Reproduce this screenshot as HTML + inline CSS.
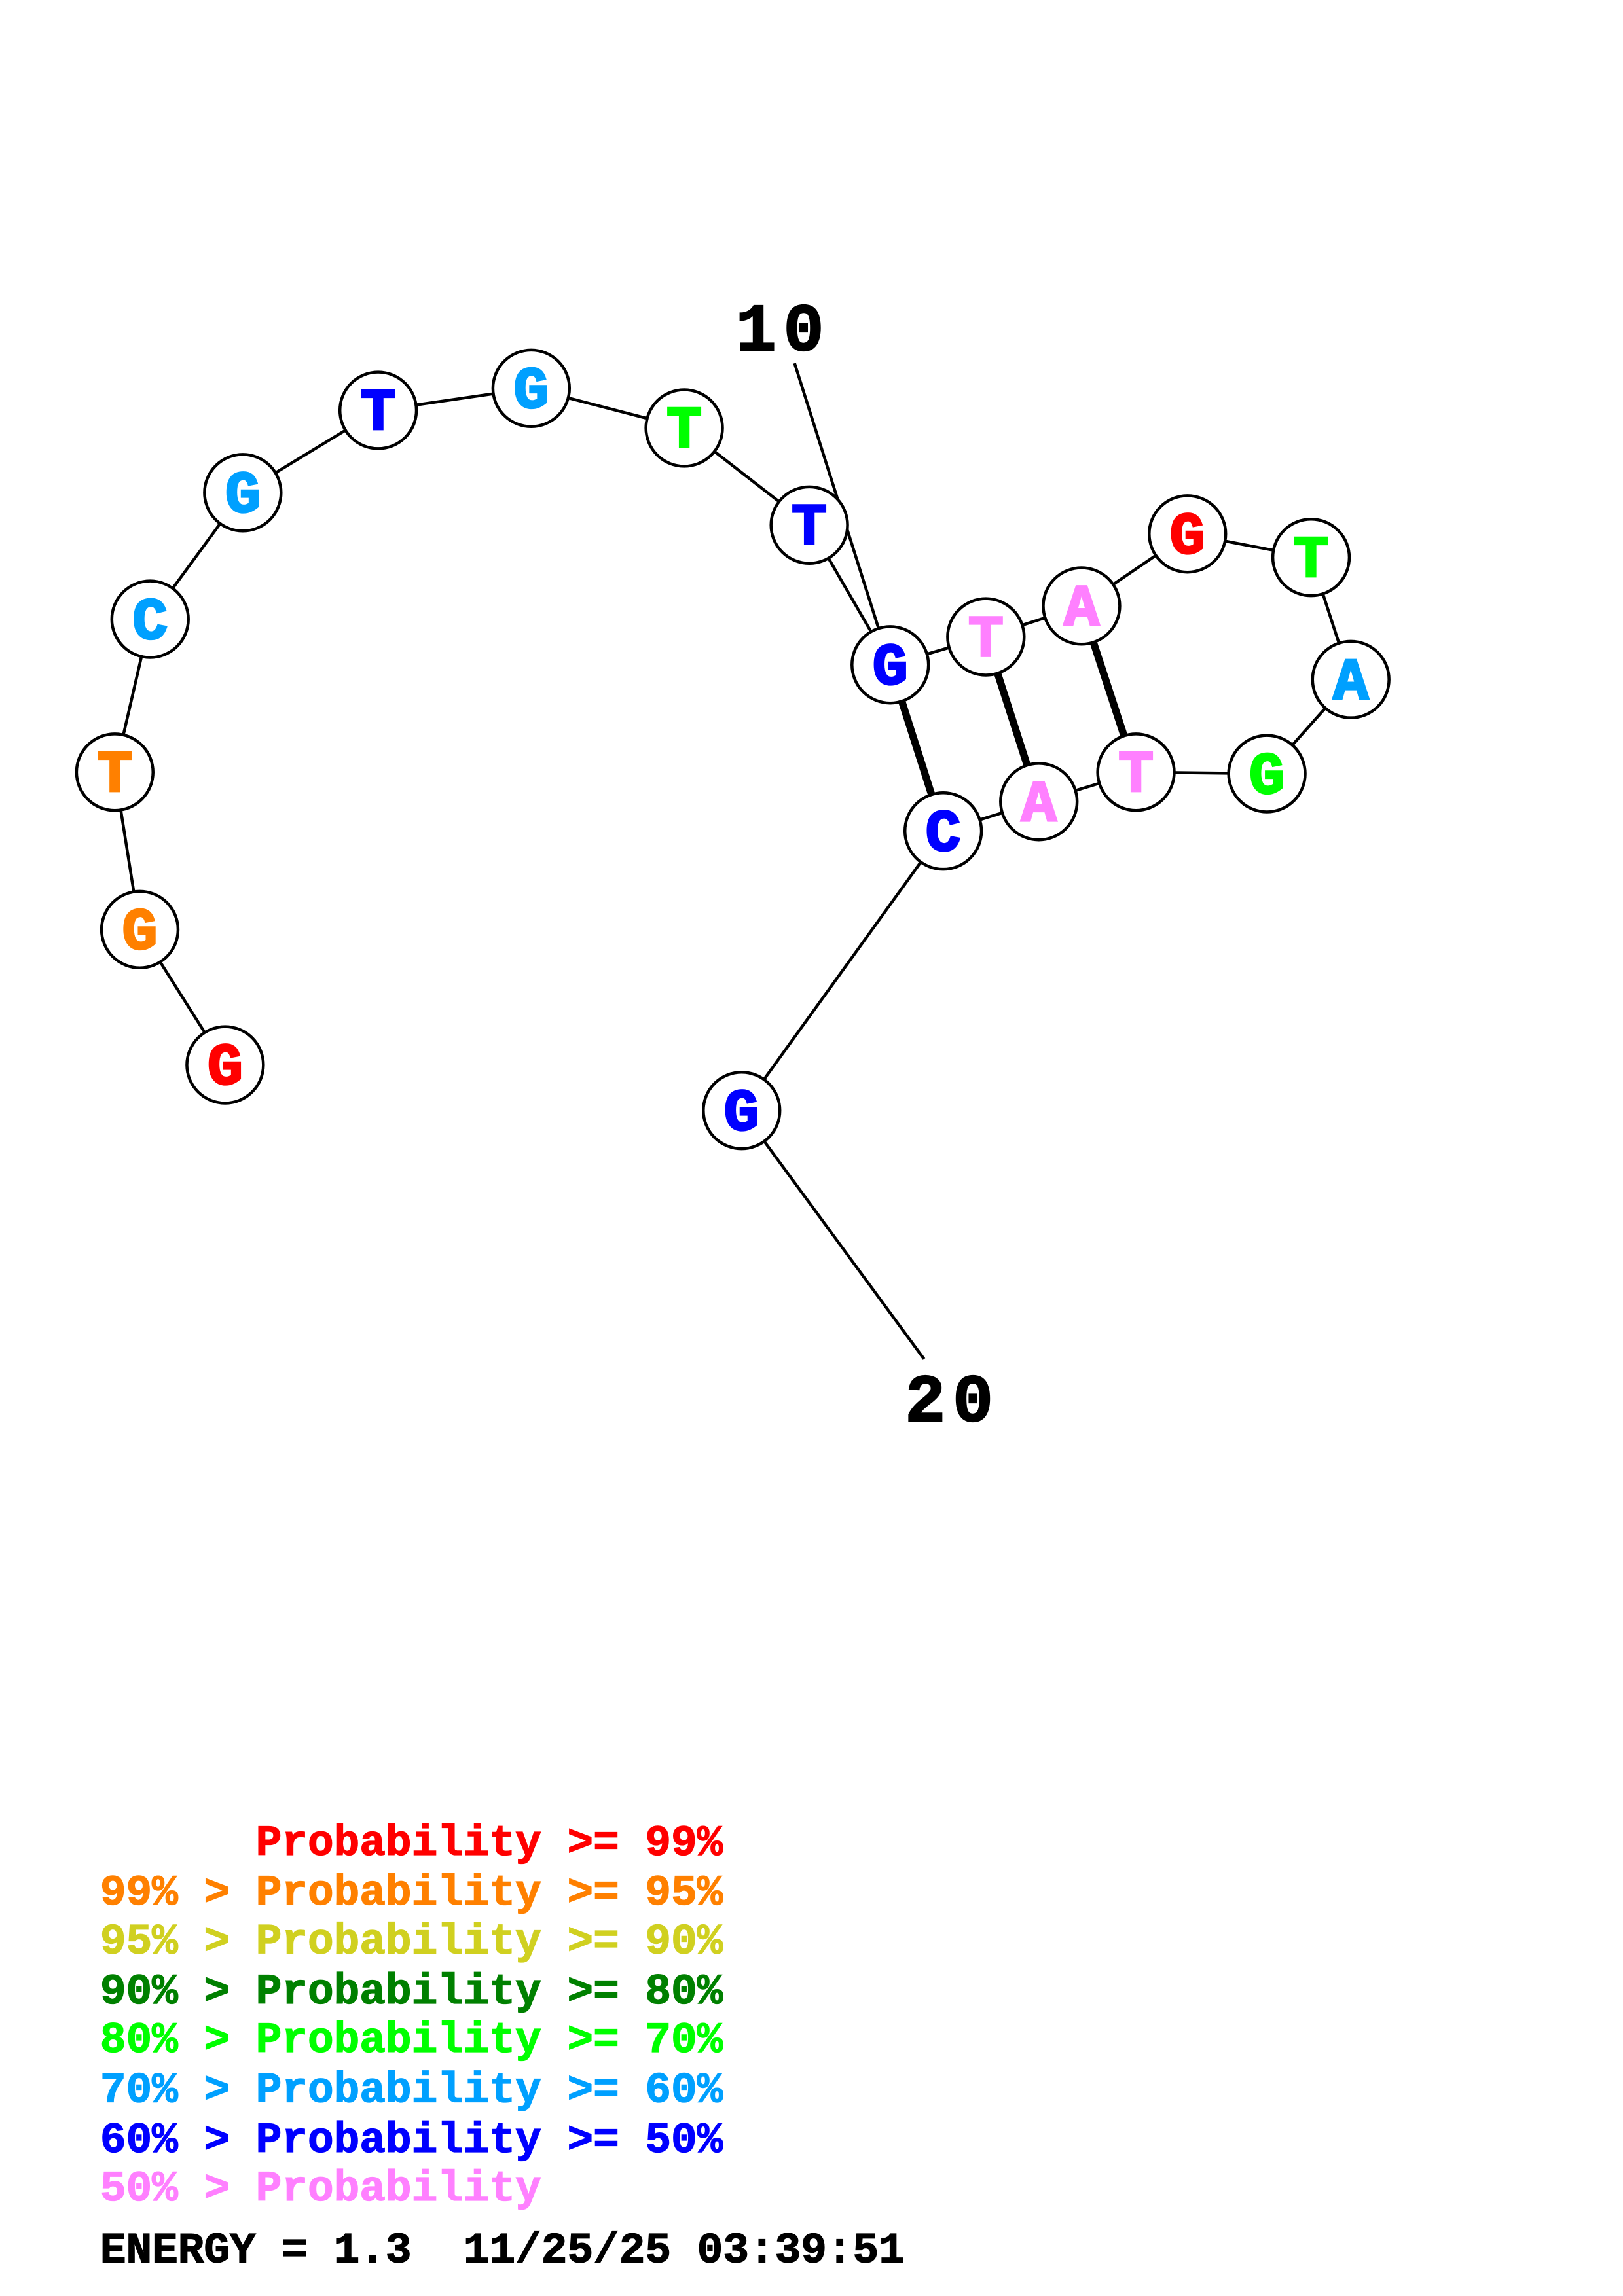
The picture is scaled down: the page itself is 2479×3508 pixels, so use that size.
<!DOCTYPE html>
<html><head><meta charset="utf-8"><style>html,body{margin:0;padding:0;background:#fff}svg{display:block}text{white-space:pre}</style></head>
<body>
<svg width="2479" height="3508" viewBox="0 0 1103 1561" preserveAspectRatio="none" xmlns="http://www.w3.org/2000/svg">
<g transform="translate(0,-3)">
<g stroke="#000" stroke-width="2" fill="none">
<polyline points="153,727 95,635 78,528 102,424 165,338 257,282 361,267 465,294 550,360 605,455 670,436 735,415 807,366 891,382 918,465 861,529 772,528 706,548 641,568 504,758 628,927"/>
<line x1="540" y1="250" x2="597" y2="430"/>
</g>
<g stroke="#000" stroke-width="5">
<line x1="605" y1="455" x2="641" y2="568"/>
<line x1="670" y1="436" x2="706" y2="548"/>
<line x1="735" y1="415" x2="772" y2="528"/>
</g>
<g stroke="#000" stroke-width="2" fill="#fff">
<circle cx="153" cy="727" r="26"/><circle cx="95" cy="635" r="26"/><circle cx="78" cy="528" r="26"/>
<circle cx="102" cy="424" r="26"/><circle cx="165" cy="338" r="26"/><circle cx="257" cy="282" r="26"/>
<circle cx="361" cy="267" r="26"/><circle cx="465" cy="294" r="26"/><circle cx="550" cy="360" r="26"/>
<circle cx="605" cy="455" r="26"/><circle cx="670" cy="436" r="26"/><circle cx="735" cy="415" r="26"/>
<circle cx="807" cy="366" r="26"/><circle cx="891" cy="382" r="26"/><circle cx="918" cy="465" r="26"/>
<circle cx="861" cy="529" r="26"/><circle cx="772" cy="528" r="26"/><circle cx="706" cy="548" r="26"/>
<circle cx="641" cy="568" r="26"/><circle cx="504" cy="758" r="26"/>
</g>
<g font-family="Liberation Mono, monospace" font-weight="bold" font-size="40" text-anchor="middle" stroke-width="1.5">
<text x="153" y="740" fill="#f00" stroke="#f00">G</text>
<text x="95" y="648" fill="#ff8000" stroke="#ff8000">G</text>
<text x="78" y="541" fill="#ff8000" stroke="#ff8000">T</text>
<text x="102" y="437" fill="#00a0ff" stroke="#00a0ff">C</text>
<text x="165" y="351" fill="#00a0ff" stroke="#00a0ff">G</text>
<text x="257" y="295" fill="#00f" stroke="#00f">T</text>
<text x="361" y="280" fill="#00a0ff" stroke="#00a0ff">G</text>
<text x="465" y="307" fill="#0f0" stroke="#0f0">T</text>
<text x="550" y="373" fill="#00f" stroke="#00f">T</text>
<text x="605" y="468" fill="#00f" stroke="#00f">G</text>
<text x="670" y="449" fill="#ff80ff" stroke="#ff80ff">T</text>
<text x="735" y="428" fill="#ff80ff" stroke="#ff80ff">A</text>
<text x="807" y="379" fill="#f00" stroke="#f00">G</text>
<text x="891" y="395" fill="#0f0" stroke="#0f0">T</text>
<text x="918" y="478" fill="#00a0ff" stroke="#00a0ff">A</text>
<text x="861" y="542" fill="#0f0" stroke="#0f0">G</text>
<text x="772" y="541" fill="#ff80ff" stroke="#ff80ff">T</text>
<text x="706" y="561" fill="#ff80ff" stroke="#ff80ff">A</text>
<text x="641" y="581" fill="#00f" stroke="#00f">C</text>
<text x="504" y="771" fill="#00f" stroke="#00f">G</text>
</g>
<g font-family="Liberation Mono, monospace" font-weight="bold" font-size="46" fill="#000" stroke="#000" stroke-width="1">
<text x="500" y="241" textLength="60">10</text>
<text x="615" y="969" textLength="60">20</text>
</g>
</g>
<g font-family="Liberation Mono, monospace" font-weight="bold" font-size="29.4" stroke-width="0.6">
<text x="68" y="1261" fill="#f00" stroke="#f00">      Probability &gt;= 99%</text>
<text x="68" y="1295" fill="#ff8000" stroke="#ff8000">99% &gt; Probability &gt;= 95%</text>
<text x="68" y="1328" fill="#d0d020" stroke="#d0d020">95% &gt; Probability &gt;= 90%</text>
<text x="68" y="1362" fill="#008000" stroke="#008000">90% &gt; Probability &gt;= 80%</text>
<text x="68" y="1395" fill="#0f0" stroke="#0f0">80% &gt; Probability &gt;= 70%</text>
<text x="68" y="1429" fill="#00a0ff" stroke="#00a0ff">70% &gt; Probability &gt;= 60%</text>
<text x="68" y="1463" fill="#00f" stroke="#00f">60% &gt; Probability &gt;= 50%</text>
<text x="68" y="1496" fill="#ff80ff" stroke="#ff80ff">50% &gt; Probability</text>
<text x="68" y="1538" fill="#000" stroke="#000">ENERGY = 1.3  11/25/25 03:39:51</text>
</g>
</svg>
</body></html>
